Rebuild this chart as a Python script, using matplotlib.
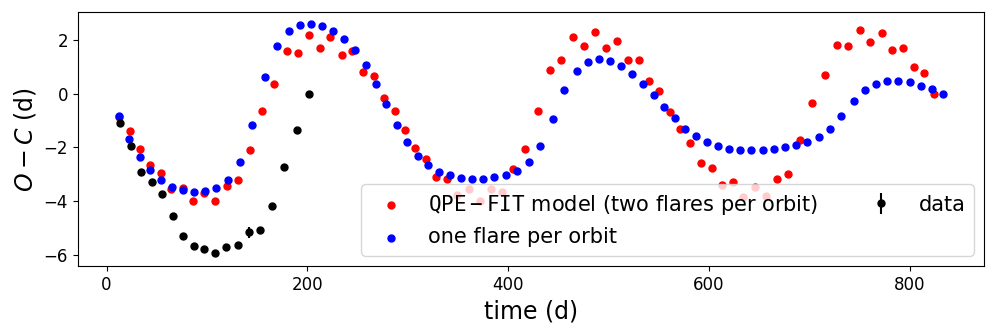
import matplotlib
matplotlib.use("Agg")
import matplotlib.pyplot as plt
import numpy as np

# ---- data ----
data_t = [13.9, 24.2, 34.2, 44.8, 55.4, 66.1, 76.0, 86.7, 97.3, 107.9,
          119.2, 130.5, 141.8, 153.1, 164.4, 177.1, 189.3, 201.6]
data_oc = [-1.08, -1.96, -2.90, -3.29, -3.72, -4.53, -5.30, -5.64, -5.76, -5.92,
           -5.70, -5.62, -5.15, -5.08, -4.19, -2.73, -1.35, 0.0]
data_err = [0.05, 0.05, 0.05, 0.05, 0.05, 0.05, 0.05, 0.05, 0.05, 0.05,
            0.05, 0.05, 0.2, 0.12, 0.05, 0.05, 0.05, 0.05]

two_t = [12.3, 22.9, 33.2, 43.5, 54.1, 64.4, 75.7, 86.3, 97.3, 107.9,
         119.6, 130.9, 142.8, 155.1, 167.1, 179.4, 190.3, 202.0, 212.3, 222.6,
         234.2, 244.8, 255.5, 266.1, 276.4, 287.0, 297.3, 307.6, 318.3, 328.5,
         339.2, 349.5, 360.8, 371.7, 383.0, 393.7, 404.6, 417.3, 429.5, 441.8,
         453.1, 465.1, 475.7, 487.0, 497.7, 508.6, 519.3, 530.2, 540.5, 550.8,
         561.4, 571.4, 581.7, 592.3, 603.0, 613.3, 624.2, 634.5, 646.2, 657.1,
         668.1, 679.4, 691.0, 702.5, 715.9, 727.9, 738.9, 750.5, 761.1, 772.4,
         782.7, 793.3, 804.0, 814.6, 824.6]
two_oc = [-0.86, -1.40, -2.04, -2.66, -2.95, -3.56, -3.50, -3.99, -3.70, -3.99,
          -3.43, -3.22, -2.09, -0.66, 0.36, 1.58, 1.49, 2.18, 1.69, 2.11,
          1.43, 1.59, 0.80, 0.66, -0.18, -0.63, -1.37, -2.02, -2.44, -3.11,
          -3.18, -3.75, -3.55, -3.97, -3.53, -3.66, -2.80, -2.05, -0.63, 0.88,
          1.25, 2.11, 1.78, 2.27, 1.70, 1.97, 1.25, 1.25, 0.45, 0.10,
          -0.68, -1.31, -1.85, -2.57, -2.76, -3.40, -3.29, -3.83, -3.46, -3.80,
          -3.16, -2.97, -1.72, -0.34, 0.69, 1.81, 1.75, 2.35, 1.91, 2.26,
          1.63, 1.71, 0.99, 0.78, -0.02]

one_t = [12.3, 22.6, 33.2, 43.5, 54.1, 65.4, 76.0, 87.0, 98.3, 109.3,
         120.6, 132.5, 144.8, 157.8, 170.1, 181.7, 193.0, 204.0, 215.1, 225.9,
         236.5, 247.2, 258.1, 268.4, 278.7, 289.0, 299.3, 309.9, 320.6, 331.5,
         342.5, 353.5, 364.4, 375.4, 386.4, 398.0, 409.3, 420.6, 431.9, 444.5,
         456.1, 468.4, 479.7, 491.0, 502.0, 512.9, 523.6, 534.5, 545.2, 555.8,
         566.1, 576.7, 587.4, 598.3, 609.6, 620.6, 631.5, 642.5, 653.8, 665.1,
         676.1, 687.0, 698.0, 709.6, 720.9, 732.2, 744.2, 755.8, 766.8, 777.7,
         789.0, 800.3, 811.3, 822.3, 833.2]
one_oc = [-0.84, -1.68, -2.34, -2.85, -3.21, -3.45, -3.59, -3.65, -3.61, -3.50,
          -3.19, -2.54, -1.16, 0.63, 1.78, 2.32, 2.54, 2.59, 2.51, 2.33,
          2.03, 1.63, 1.06, 0.37, -0.39, -1.15, -1.80, -2.31, -2.66, -2.90,
          -3.03, -3.12, -3.16, -3.16, -3.09, -3.01, -2.86, -2.55, -1.95, -0.94,
          0.15, 0.84, 1.17, 1.27, 1.21, 1.01, 0.74, 0.36, -0.04, -0.49,
          -0.92, -1.30, -1.59, -1.80, -1.95, -2.04, -2.09, -2.09, -2.09, -2.04,
          -1.99, -1.91, -1.80, -1.61, -1.30, -0.83, -0.29, 0.12, 0.36, 0.46,
          0.47, 0.42, 0.30, 0.16, -0.02]

label_two = r'$\mathtt{QPE-FIT}$ model (two flares per orbit)'
label_one = 'one flare per orbit'
label_data = 'data'

# ---- figure ----
fig = plt.figure(figsize=(9.96, 3.32), dpi=100)
ax = fig.add_axes([0.078, 0.199, 0.910, 0.764])

ax.scatter(two_t, two_oc, s=25, color='red', label=label_two)
ax.scatter(one_t, one_oc, s=25, color='blue', label=label_one)
ax.errorbar(data_t, data_oc, yerr=data_err, fmt='o', color='black',
            markersize=5, label=label_data)

ax.set_xlabel('time (d)', fontsize=17)
ax.set_ylabel(r'$O-C$ (d)', fontsize=17)
ax.tick_params(labelsize=12)
ax.legend(loc='lower right', ncol=2, fontsize=15)

fig.savefig('out.png', dpi=100)
